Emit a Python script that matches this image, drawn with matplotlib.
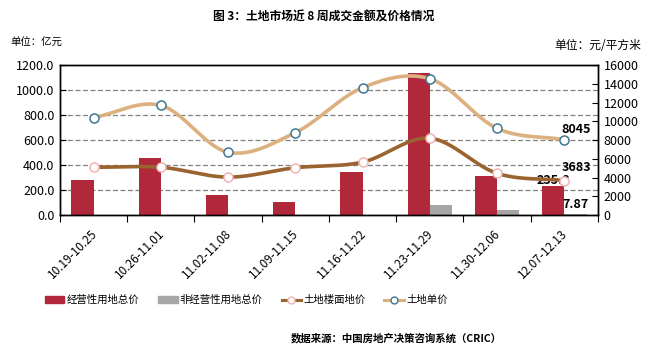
import numpy as np
import matplotlib
matplotlib.use("Agg")
import matplotlib.pyplot as plt
import matplotlib.transforms as mtransforms
from matplotlib.lines import Line2D
from matplotlib.patches import Patch

plt.rcParams['font.family'] = ['Noto Sans CJK SC', 'DejaVu Sans']

weeks = ['10.19-10.25', '10.26-11.01', '11.02-11.08', '11.09-11.15',
         '11.16-11.22', '11.23-11.29', '11.30-12.06', '12.07-12.13']
op_total = [280, 455, 160, 105, 345, 1140, 312, 235.8]
nonop_total = [0, 0, 0, 0, 0, 80, 40, 7.87]
floor_price = [5100, 5100, 4050, 5050, 5650, 8200, 4450, 3683]
unit_price = [10400, 11700, 6700, 8800, 13600, 14550, 9250, 8045]

red = '#b0283a'
gray = '#a6a6a6'
brown = '#9a6330'
tan = '#dcb17f'


def smooth(xs, ys, n=30):
    # Catmull-Rom curve through the points, like Excel's smoothed line
    xs = np.asarray(xs, float)
    ys = np.asarray(ys, float)
    px = np.concatenate([[2 * xs[0] - xs[1]], xs, [2 * xs[-1] - xs[-2]]])
    py = np.concatenate([[2 * ys[0] - ys[1]], ys, [2 * ys[-1] - ys[-2]]])
    ox, oy = [], []
    for i in range(1, len(px) - 2):
        t = np.linspace(0, 1, n)
        for p, o in ((px, ox), (py, oy)):
            p0, p1, p2, p3 = p[i - 1], p[i], p[i + 1], p[i + 2]
            o.extend(0.5 * ((2 * p1) + (-p0 + p2) * t
                            + (2 * p0 - 5 * p1 + 4 * p2 - p3) * t ** 2
                            + (-p0 + 3 * p1 - 3 * p2 + p3) * t ** 3))
    return ox, oy


fig = plt.figure(figsize=(6.48, 3.52), dpi=100)
ax = fig.add_axes([0.0926, 0.389, 0.8302, 0.426])
ax2 = ax.twinx()

x = np.arange(len(weeks))
w = 0.33
ax.bar(x - w / 2, op_total, w, color=red, zorder=2)
ax.bar(x + w / 2, nonop_total, w, color=gray, zorder=2)

ax.set_xlim(-0.5, len(weeks) - 0.5)
ax.set_ylim(0, 1200)
ax.set_yticks(np.arange(0, 1201, 200))
ax.set_yticklabels(['%.1f' % v for v in np.arange(0, 1201, 200)], fontsize=9)
ax.yaxis.grid(True, linestyle=(0, (4, 2)), color='#808080', linewidth=0.9)
ax.set_axisbelow(True)
ax.tick_params(axis='y', direction='in', length=4, pad=4)

# category labels, drawn by hand so they can sit a little below the axis
ax.set_xticks(np.arange(-0.5, len(weeks)))
ax.set_xticklabels([])
ax.tick_params(axis='x', direction='out', length=5)
lab_tr = ax.get_xaxis_transform() + mtransforms.ScaledTranslation(1 / 72, -12 / 72, fig.dpi_scale_trans)
for xi, lab in zip(x, weeks):
    ax.text(xi, 0, lab, transform=lab_tr, rotation=45, ha='right', va='center',
            rotation_mode='anchor', fontsize=8.5)

ax2.set_ylim(0, 16000)
ax2.set_yticks(np.arange(0, 16001, 2000))
ax2.tick_params(axis='y', direction='in', length=4, labelsize=9, pad=4)

sx, sy = smooth(x, floor_price)
ax2.plot(sx, sy, color=brown, linewidth=2.6, zorder=3)
ax2.plot(x, floor_price, 'o', ms=6.5, mfc='white', mec='#f0b4b4', mew=1.1, zorder=4)
sx, sy = smooth(x, unit_price)
ax2.plot(sx, sy, color=tan, linewidth=2.6, zorder=3)
ax2.plot(x, unit_price, 'o', ms=6.5, mfc='white', mec='#3d7895', mew=1.1, zorder=4)

for a in (ax, ax2):
    for s in a.spines.values():
        s.set_linewidth(1.0)

# value labels on the last week
last = len(weeks) - 1
ax2.annotate('%d' % unit_price[last], (last, unit_price[last]), xytext=(-2, 3),
             textcoords='offset points', ha='left', va='bottom', fontsize=9, fontweight='bold')
ax2.annotate('%d' % floor_price[last], (last, floor_price[last]), xytext=(-2, 5),
             textcoords='offset points', ha='left', va='bottom', fontsize=9, fontweight='bold')
ax.annotate('%.1f' % op_total[last], (last - w / 2, op_total[last]), xytext=(0, -1),
            textcoords='offset points', ha='center', va='bottom', fontsize=9, fontweight='bold')
ax.annotate('%.2f' % nonop_total[last], (last + w / 2, nonop_total[last]), xytext=(0, 2),
            textcoords='offset points', ha='center', va='bottom', fontsize=9, fontweight='bold')

fig.text(0.5, 0.95, '图 3：土地市场近 8 周成交金额及价格情况', ha='center', va='center',
         fontsize=8.5, fontweight='bold')
fig.text(0.016, 0.877, '单位：亿元', ha='left', va='center', fontsize=7.5)
fig.text(0.99, 0.870, '单位：元/平方米', ha='right', va='center', fontsize=8.5)
fig.text(0.775, 0.04, '数据来源：中国房地产决策咨询系统（CRIC）', ha='right', va='center',
         fontsize=7.5, fontweight='bold')

handles = [Patch(color=red), Patch(color=gray),
           Line2D([], [], color=brown, lw=2.2, marker='o', ms=5, mfc='white', mec='#f0b4b4'),
           Line2D([], [], color=tan, lw=2.2, marker='o', ms=5, mfc='white', mec='#3d7895')]
labels = ['经营性用地总价', '非经营性用地总价', '土地楼面地价', '土地单价']
fig.legend(handles, labels, loc='center', bbox_to_anchor=(0.38, 0.148), ncol=4,
           frameon=False, fontsize=7.5, handlelength=1.9, columnspacing=1.8,
           handletextpad=0.2, handleheight=0.6)

fig.savefig('out.png', dpi=100)
